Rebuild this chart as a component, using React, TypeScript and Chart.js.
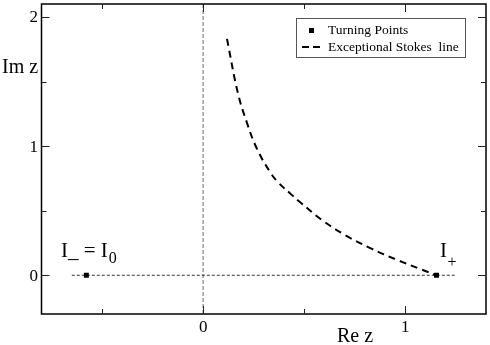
import React, { useEffect, useRef } from "react";
import { Chart, registerables } from "chart.js";

Chart.register(...registerables);

// ---- data ----
const stokesX = [0.118, 0.172, 0.217, 0.266, 0.335, 0.374, 0.433, 0.473, 0.586, 0.704, 0.833, 0.966, 1.08, 1.155];
const stokesY = [1.83, 1.41, 1.18, 0.98, 0.79, 0.715, 0.63, 0.575, 0.43, 0.31, 0.206, 0.115, 0.045, 0.0];
const turningX = [-0.578, 1.155];
const turningY = [0, 0];
const realAxisX = [-0.65, 1.245];
const realAxisY = [0, 0];
const imagAxisX = [0, 0];
const imagAxisY = [-0.3, 2.1];
const xMajorTicks = [0, 1];
const xMinorTicks = [-0.5, 0.5];
const yMajorTicks = [0, 1, 2];
const yMinorTicks = [0.5, 1.5];
const xTickLabels = ["0", "1"];
const yTickLabels = ["0", "1", "2"];

const FONT = "'Liberation Serif', 'DejaVu Serif', serif";

const overlay = {
  id: "overlay",
  afterDraw(chart: any) {
    const ctx = chart.ctx as CanvasRenderingContext2D;
    const { left, right, top, bottom } = chart.chartArea;
    const xs = chart.scales.x;
    const ys = chart.scales.y;
    ctx.save();
    // frame
    ctx.strokeStyle = "#000";
    ctx.lineWidth = 1.5;
    ctx.strokeRect(left, top, right - left, bottom - top);
    // ticks
    ctx.lineWidth = 1;
    ctx.strokeStyle = "#222";
    const tick = (x1: number, y1: number, x2: number, y2: number) => {
      ctx.beginPath();
      ctx.moveTo(x1, y1);
      ctx.lineTo(x2, y2);
      ctx.stroke();
    };
    xMajorTicks.forEach((v) => {
      const px = Math.round(xs.getPixelForValue(v)) + 0.5;
      tick(px, bottom, px, bottom - 8);
      tick(px, top, px, top + 8);
    });
    xMinorTicks.forEach((v) => {
      const px = Math.round(xs.getPixelForValue(v)) + 0.5;
      tick(px, bottom, px, bottom - 5);
      tick(px, top, px, top + 5);
    });
    yMajorTicks.forEach((v) => {
      const py = Math.round(ys.getPixelForValue(v)) + 0.5;
      tick(left, py, left + 8, py);
      tick(right, py, right - 8, py);
    });
    yMinorTicks.forEach((v) => {
      const py = Math.round(ys.getPixelForValue(v)) + 0.5;
      tick(left, py, left + 5, py);
      tick(right, py, right - 5, py);
    });
    // tick labels
    ctx.fillStyle = "#000";
    ctx.font = `17px ${FONT}`;
    ctx.textAlign = "center";
    ctx.textBaseline = "alphabetic";
    xMajorTicks.forEach((v, i) => {
      ctx.fillText(xTickLabels[i], xs.getPixelForValue(v), 332);
    });
    ctx.textAlign = "right";
    ctx.textBaseline = "middle";
    yMajorTicks.forEach((v, i) => {
      ctx.fillText(yTickLabels[i], 38, ys.getPixelForValue(v) + 1);
    });
    // axis titles
    ctx.font = `20px ${FONT}`;
    ctx.textAlign = "left";
    ctx.textBaseline = "alphabetic";
    ctx.fillText("Im z", 2, 73);
    ctx.fillText("Re z", 337, 342);
    // annotations
    ctx.font = `21px ${FONT}`;
    ctx.fillText("I_ = I", 61, 257);
    const w = ctx.measureText("I_ = I").width;
    ctx.font = `16px ${FONT}`;
    ctx.fillText("0", 61 + w + 1, 263);
    ctx.font = `21px ${FONT}`;
    ctx.fillText("I", 440, 257);
    ctx.font = `16px ${FONT}`;
    ctx.fillText("+", 447.5, 267);
    // legend box
    ctx.strokeStyle = "#555";
    ctx.lineWidth = 1;
    ctx.strokeRect(296.5, 18.5, 169, 39);
    ctx.fillStyle = "#000";
    ctx.fillRect(309, 28, 5, 5);
    ctx.strokeStyle = "#000";
    ctx.lineWidth = 2;
    ctx.setLineDash([7, 4]);
    ctx.beginPath();
    ctx.moveTo(302, 47);
    ctx.lineTo(320, 47);
    ctx.stroke();
    ctx.setLineDash([]);
    ctx.font = `13.5px ${FONT}`;
    ctx.fillText("Turning Points", 328, 34);
    ctx.fillText("Exceptional Stokes  line", 328, 51);
    ctx.restore();
  },
};

export default function App() {
  const ref = useRef<HTMLCanvasElement | null>(null);
  useEffect(() => {
    if (!ref.current) return;
    const pts = (xa: number[], ya: number[]) => xa.map((x, i) => ({ x, y: ya[i] }));
    const chart = new Chart(ref.current, {
      type: "line",
      data: {
        datasets: [
          {
            label: "Turning Points",
            data: pts(turningX, turningY),
            showLine: false,
            pointStyle: "rect",
            pointRadius: 3.5,
            pointBackgroundColor: "#000",
            pointBorderColor: "#000",
            borderWidth: 0,
          },
          {
            label: "Exceptional Stokes line",
            data: pts(stokesX, stokesY),
            borderColor: "#000",
            borderWidth: 2,
            borderDash: [7, 5],
            pointRadius: 0,
            tension: 0.4,
            fill: false,
          },
          {
            label: "real axis",
            data: pts(realAxisX, realAxisY),
            borderColor: "#333",
            borderWidth: 1,
            borderDash: [3, 2],
            pointRadius: 0,
            fill: false,
          },
          {
            label: "imag axis",
            data: pts(imagAxisX, imagAxisY),
            borderColor: "#9a9a9a",
            borderWidth: 1.5,
            borderDash: [4, 2],
            pointRadius: 0,
            fill: false,
          },
        ],
      },
      options: {
        animation: false,
        responsive: false,
        devicePixelRatio: 1,
        layout: { padding: { left: 41.5, top: 1, right: 2, bottom: 31 } },
        scales: {
          x: { type: "linear", min: -0.8, max: 1.4, display: false },
          y: { type: "linear", min: -0.3, max: 2.1, display: false },
        },
        plugins: {
          legend: { display: false },
          tooltip: { enabled: false },
        },
      },
      plugins: [overlay],
    } as any);
    return () => chart.destroy();
  }, []);
  return (
    <div style={{ position: "absolute", left: 0, top: 0, width: 490, height: 345, background: "#fff" }}>
      <canvas ref={ref} width={490} height={345} style={{ display: "block" }} />
    </div>
  );
}
